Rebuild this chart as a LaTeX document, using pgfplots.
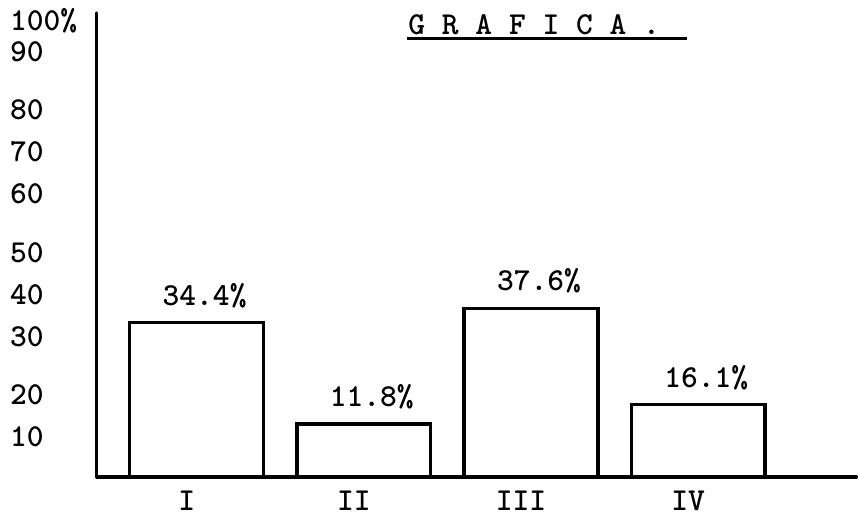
\documentclass[border=0pt]{standalone}
\usepackage{pgfplots}
\pgfplotsset{compat=1.18}
\begin{document}
\begin{tikzpicture}[x=1bp,y=1bp,font=\ttfamily\bfseries\fontsize{32bp}{36bp}\selectfont]
\path (0,0) rectangle (858,513);
\begin{axis}[
  at={(97bp,35bp)}, anchor=south west,
  scale only axis, width=761bp, height=465bp,
  xmin=-0.597, xmax=3.946, ymin=0, ymax=103.33,
  axis x line*=bottom, axis y line*=left,
  axis line style={line width=3.3bp, line cap=round},
  clip=false,
  ybar, bar width=0.8, bar shift=0pt,
  xtick={0,1,2,3}, xticklabels={I,II,III,IV},
  ytick={8.9,18.4,31.3,40.7,50,63.1,72.4,81.8,94.7,101.6},
  yticklabels={10,20,30,40,50,60,70,80,90,100\%},
  tick style={draw=none},
  yticklabel style={anchor=west, inner sep=0pt, xshift=-87bp},
  xticklabel style={anchor=north, inner sep=0pt, yshift=-9bp, xshift=-10bp},
  nodes near coords,
  point meta=explicit symbolic,
  nodes near coords style={anchor=south, inner sep=0pt, yshift=13bp, xshift=8bp},
]
\addplot[draw=black, fill=white, line width=3.3bp] coordinates {
  (0,34.4) [34.4\%]
  (1,11.8) [11.8\%]
  (2,37.6) [37.6\%]
  (3,16.1) [16.1\%]
};
\end{axis}
\node[anchor=base west, inner sep=0pt] at (409bp,478bp) {G R A F I C A .};
\draw[line width=2.7bp] (408bp,474.5bp) -- (688bp,474.5bp);
\end{tikzpicture}
\end{document}
